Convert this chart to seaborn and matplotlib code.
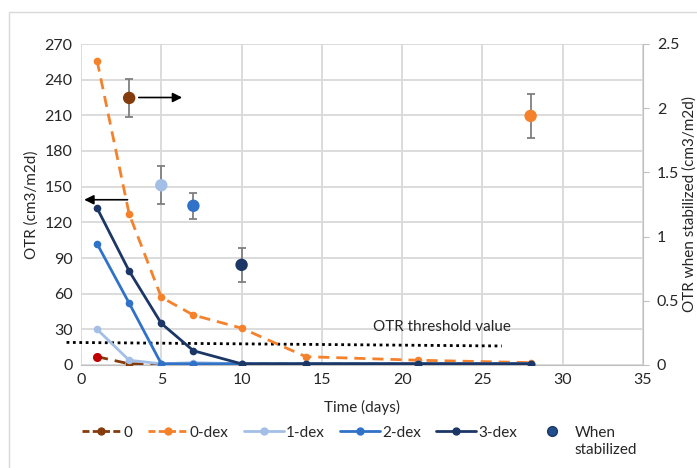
import numpy as np
import pandas as pd
import matplotlib
matplotlib.use("Agg")
import matplotlib.pyplot as plt
import seaborn as sns
from matplotlib.lines import Line2D
from matplotlib.patches import Rectangle

# data
days = [1, 3, 5, 7, 10, 14, 21, 28]
otr_0 = [7, 1, 1, 1, 1, 1, 1, 1]
otr_0dex = [256, 127, 57, 42, 31, 7, 4, 2]
otr_1dex = [30, 4, 1, 2, 1, 1, 1, 1]
otr_2dex = [102, 52, 1, 1, 1, 1, 1, 1]
otr_3dex = [132, 79, 35, 12, 1, 1, 1, 1]

stab_day = [3, 5, 7, 10, 28]
stab_otr = [2.08, 1.40, 1.24, 0.78, 1.94]
stab_err = [0.15, 0.15, 0.10, 0.13, 0.17]
stab_group = ["0", "1-dex", "2-dex", "3-dex", "0-dex"]

threshold_x = [-0.9, 26.2]
threshold_y = [19, 16]

colors = {"0": "#843C0C", "0-dex": "#F5812B", "1-dex": "#A4BFE6",
          "2-dex": "#2F72C8", "3-dex": "#1C3766"}

sns.set_style("white")
plt.rcParams["font.family"] = ["Lato", "DejaVu Sans"]

fig = plt.figure(figsize=(6.97, 4.68), dpi=100)
fig.patches.append(Rectangle((9 / 697, -0.1), 1.2, 1 - 12 / 468 + 0.1,
                             transform=fig.transFigure, fill=False,
                             edgecolor="#d9d9d9", lw=1))
ax = fig.add_axes([81 / 697, 1 - 365 / 468, 562 / 697, 321 / 468])
ax2 = ax.twinx()

series = [("0", otr_0, (4, 2.5)), ("0-dex", otr_0dex, (4, 2.5)),
          ("1-dex", otr_1dex, None), ("2-dex", otr_2dex, None),
          ("3-dex", otr_3dex, None)]
for name, vals, dash in series:
    df = pd.DataFrame({"day": days, "otr": vals})
    ln = sns.lineplot(data=df, x="day", y="otr", ax=ax, color=colors[name],
                      lw=2, marker="o", markersize=5.5, markeredgewidth=0,
                      zorder=3)
    line = ln.lines[-1]
    if dash:
        line.set_dashes(dash)
ax.plot(days[0], otr_0[0], "o", color="#C00000", ms=5.5, zorder=4)

# threshold line
ax.plot(threshold_x, threshold_y, color="black", ls=(0, (1, 1.3)), lw=2,
        clip_on=False, zorder=2)
ax.text(18.2, 32, "OTR threshold value", fontsize=11, ha="left", va="center")

# arrows
ax.annotate("", xy=(6.3, 225), xytext=(3.6, 225),
            arrowprops=dict(arrowstyle="-|>", color="black", lw=1.2,
                            mutation_scale=14, shrinkA=0, shrinkB=0))
ax.annotate("", xy=(0.2, 139), xytext=(2.9, 139),
            arrowprops=dict(arrowstyle="-|>", color="black", lw=1.2,
                            mutation_scale=14, shrinkA=0, shrinkB=0))

# stabilized points on the secondary axis
ax2.errorbar(stab_day, stab_otr, yerr=stab_err, fmt="none", ecolor="#7f7f7f",
             elinewidth=1.3, capsize=3, capthick=1.3, zorder=2)
sdf = pd.DataFrame({"day": stab_day, "otr": stab_otr, "grp": stab_group})
sns.scatterplot(data=sdf, x="day", y="otr", hue="grp", palette=colors, s=80,
                edgecolor="none", legend=False, ax=ax2, zorder=3)

ax.set_xlim(0, 35)
ax.set_ylim(0, 270)
ax.set_xticks(range(0, 36, 5))
ax.set_yticks(range(0, 271, 30))
ax2.set_ylim(0, 2.5)
ax2.set_yticks([0, 0.5, 1, 1.5, 2, 2.5])
ax2.set_yticklabels(["0", "0.5", "1", "1.5", "2", "2.5"])

ax.grid(True, color="#d9d9d9", lw=1.3)
ax.set_axisbelow(True)
for a in (ax, ax2):
    for s in a.spines.values():
        s.set_visible(False)
ax2.spines["right"].set_visible(True)
ax2.spines["right"].set_color("#bfbfbf")
ax.spines["bottom"].set_visible(True)
ax.spines["bottom"].set_color("#bfbfbf")
ax.tick_params(axis="both", labelsize=11.5, length=0, pad=6)
ax2.tick_params(axis="y", labelsize=11.5, length=4, color="#bfbfbf",
                pad=6)

ax.set_xlabel("Time (days)", fontsize=11, labelpad=9)
ax.set_ylabel("OTR (cm3/m2d)", fontsize=11)
ax2.set_ylabel("OTR when stabilized (cm3/m2d)", fontsize=11, labelpad=2)
ax2.set_xlabel("")

handles = [
    Line2D([], [], color=colors["0"], lw=2, dashes=(2.5, 1.2), marker="o", ms=5),
    Line2D([], [], color=colors["0-dex"], lw=2, dashes=(2.5, 1.2), marker="o", ms=5),
    Line2D([], [], color=colors["1-dex"], lw=2, marker="o", ms=5),
    Line2D([], [], color=colors["2-dex"], lw=2, marker="o", ms=5),
    Line2D([], [], color=colors["3-dex"], lw=2, marker="o", ms=5),
    Line2D([], [], color="none", marker="o", ms=7, markerfacecolor="#1F4E8C",
           markeredgecolor="#1C3766"),
]
labels = ["0", "0-dex", "1-dex", "2-dex", "3-dex", "When"]
leg = fig.legend(handles, labels, loc="upper center",
                 bbox_to_anchor=(0.5, 0.12), ncol=6, frameon=False,
                 fontsize=11, handlelength=2.6, handletextpad=0.15,
                 columnspacing=1.0)

# second line of the last legend label, placed under "When"
fig.canvas.draw()
bb = leg.get_texts()[-1].get_window_extent().transformed(fig.transFigure.inverted())
fig.text(bb.x0, bb.y0 - 0.008, "stabilized", fontsize=11, ha="left", va="top")

fig.savefig("out.png", dpi=100)
